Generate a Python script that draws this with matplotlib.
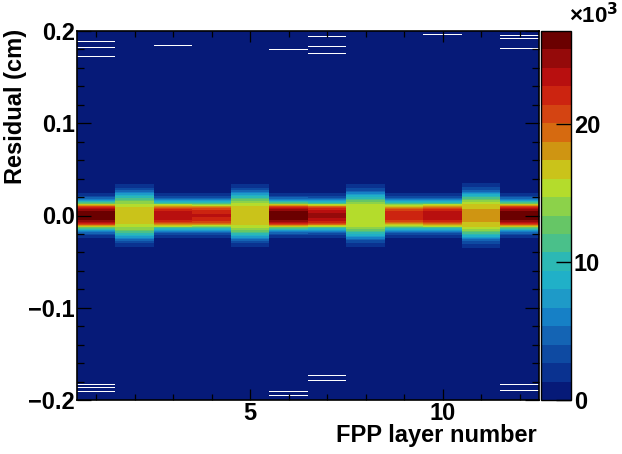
import numpy as np
import matplotlib
matplotlib.use('Agg')
import matplotlib.pyplot as plt
from matplotlib.colors import ListedColormap, BoundaryNorm

plt.rcParams['font.family'] = ['Liberation Sans', 'DejaVu Sans']
plt.rcParams['font.weight'] = 'bold'

layers = list(range(1, 13))
layer_peak = [26.5, 16.6, 23.6, 22.8, 16.7, 26.4, 24.3, 15.8, 22.4, 23.8, 17.8, 26.3]
layer_wide = [False, True, False, False, True, False, False, True, False, False, True, False]

# relative profile vs. bin offset from 0 (bin = 0.001 cm)
narrow_shape = [1.00, 1.00, 0.99, 0.98, 0.97, 0.95, 0.92, 0.88, 0.83, 0.77,
                0.70, 0.63, 0.56, 0.49, 0.42, 0.36, 0.30, 0.25, 0.20, 0.16,
                0.13, 0.10, 0.08, 0.06, 0.045, 0.035, 0.03]
wide_shape = [1.00, 1.00, 1.00, 0.99, 0.99, 0.98, 0.98, 0.97, 0.97, 0.96,
              0.95, 0.93, 0.91, 0.88, 0.85, 0.81, 0.77, 0.72, 0.67, 0.62,
              0.57, 0.52, 0.47, 0.42, 0.37, 0.33, 0.29, 0.25, 0.21, 0.18,
              0.15, 0.13, 0.11, 0.09, 0.075, 0.06, 0.05, 0.04]
tail_count = 0.03  # x10^3, far tails

# empty bins (drawn white) near the edges
empty_layer = [1, 1, 1, 3, 6, 7, 7, 7, 10, 12, 12, 12,
               1, 1, 1, 6, 6, 7, 7, 7, 12, 12]
empty_res = [0.1888, 0.1823, 0.1726, 0.1848, 0.1791, 0.1837, 0.1758, 0.1946, 0.1967, 0.1953, 0.1812, 0.1910,
             -0.1837, -0.1862, -0.1906, -0.1906, -0.1960, -0.1740, -0.1787, -0.1935, -0.1837, -0.1892]

# colour palette (20 contours), bottom -> top
pal = ['#061a78', '#0a3290', '#0e4aa2', '#1464b4', '#1680c6', '#1e9ac8', '#20b0c8',
       '#2cb8b4', '#4ac08a', '#66c666', '#8cd24a', '#b4dc2c', '#cac31a', '#cf9512',
       '#d66a10', '#d44412', '#cc2410', '#b80f0f', '#950a0a', '#6b0000']
zmax = 26.7

nb = 400
ylo, yhi = -0.2, 0.2
bw = (yhi - ylo) / nb
counts = np.full((nb, len(layers)), tail_count)
for j, (pk, wide) in enumerate(zip(layer_peak, layer_wide)):
    shape = wide_shape if wide else narrow_shape
    for k, v in enumerate(shape):
        counts[nb // 2 + k, j] = max(pk * v, tail_count)
        counts[nb // 2 - 1 - k, j] = max(pk * v, tail_count)
for l, r in zip(empty_layer, empty_res):
    counts[int((r - ylo) / bw), l - 1] = 0
counts = np.ma.masked_equal(counts, 0)

cmap = ListedColormap(pal)
cmap.set_bad('white')
norm = BoundaryNorm(np.linspace(0, zmax, len(pal) + 1), cmap.N)

fig = plt.figure(figsize=(6.22, 4.54), dpi=100)
ax = fig.add_axes([77 / 622, 54 / 454, 462 / 622, 369 / 454])
im = ax.imshow(counts, cmap=cmap, norm=norm, aspect='auto', origin='lower',
               extent=[0.5, 12.5, ylo, yhi], interpolation='nearest')
ax.set_xlim(0.5, 12.5)
ax.set_ylim(ylo, yhi)
ax.set_xticks([5, 10])
ax.set_xticks(layers, minor=True)
ax.set_xticklabels(['5', '10'])
yt = [-0.2, -0.1, 0.0, 0.1, 0.2]
ax.set_yticks(yt)
ax.set_yticklabels(['\u22120.2', '\u22120.1', '0.0', '0.1', '0.2'])
ax.set_yticks(np.arange(-0.2, 0.201, 0.02), minor=True)
ax.tick_params(axis='x', which='major', direction='in', top=True, length=8, width=0.9,
               labelsize=17, pad=1.5)
ax.tick_params(axis='x', which='minor', direction='in', top=True, length=4, width=0.9)
ax.tick_params(axis='y', which='major', direction='in', right=True, length=10, width=0.9,
               labelsize=17, pad=1.5)
ax.tick_params(axis='y', which='minor', direction='in', right=True, length=5, width=0.9)
for s in ax.spines.values():
    s.set_linewidth(1.2)

fig.text(16 / 622, 1 - 29 / 454, 'Residual (cm)', rotation=90, ha='center', va='top',
         fontsize=17, fontweight='bold')
fig.text(537 / 622, 1 - 424 / 454, 'FPP layer number', ha='right', va='top',
         fontsize=17, fontweight='bold')

cax = fig.add_axes([541 / 622, 54 / 454, 30 / 622, 369 / 454])
cb = fig.colorbar(im, cax=cax, ticks=[0, 10, 20])
cb.ax.set_yticklabels(['0', '10', '20'])
cb.ax.tick_params(direction='in', length=11, width=1, labelsize=17, pad=2)
cb.ax.minorticks_off()
cb.outline.set_linewidth(1.0)
fig.text(618 / 622, 1 - 16 / 454, '\u00d710$^{\\mathbf{3}}$', ha='right', va='center',
         fontsize=16, fontweight='bold')

fig.savefig('out.png', dpi=100)
